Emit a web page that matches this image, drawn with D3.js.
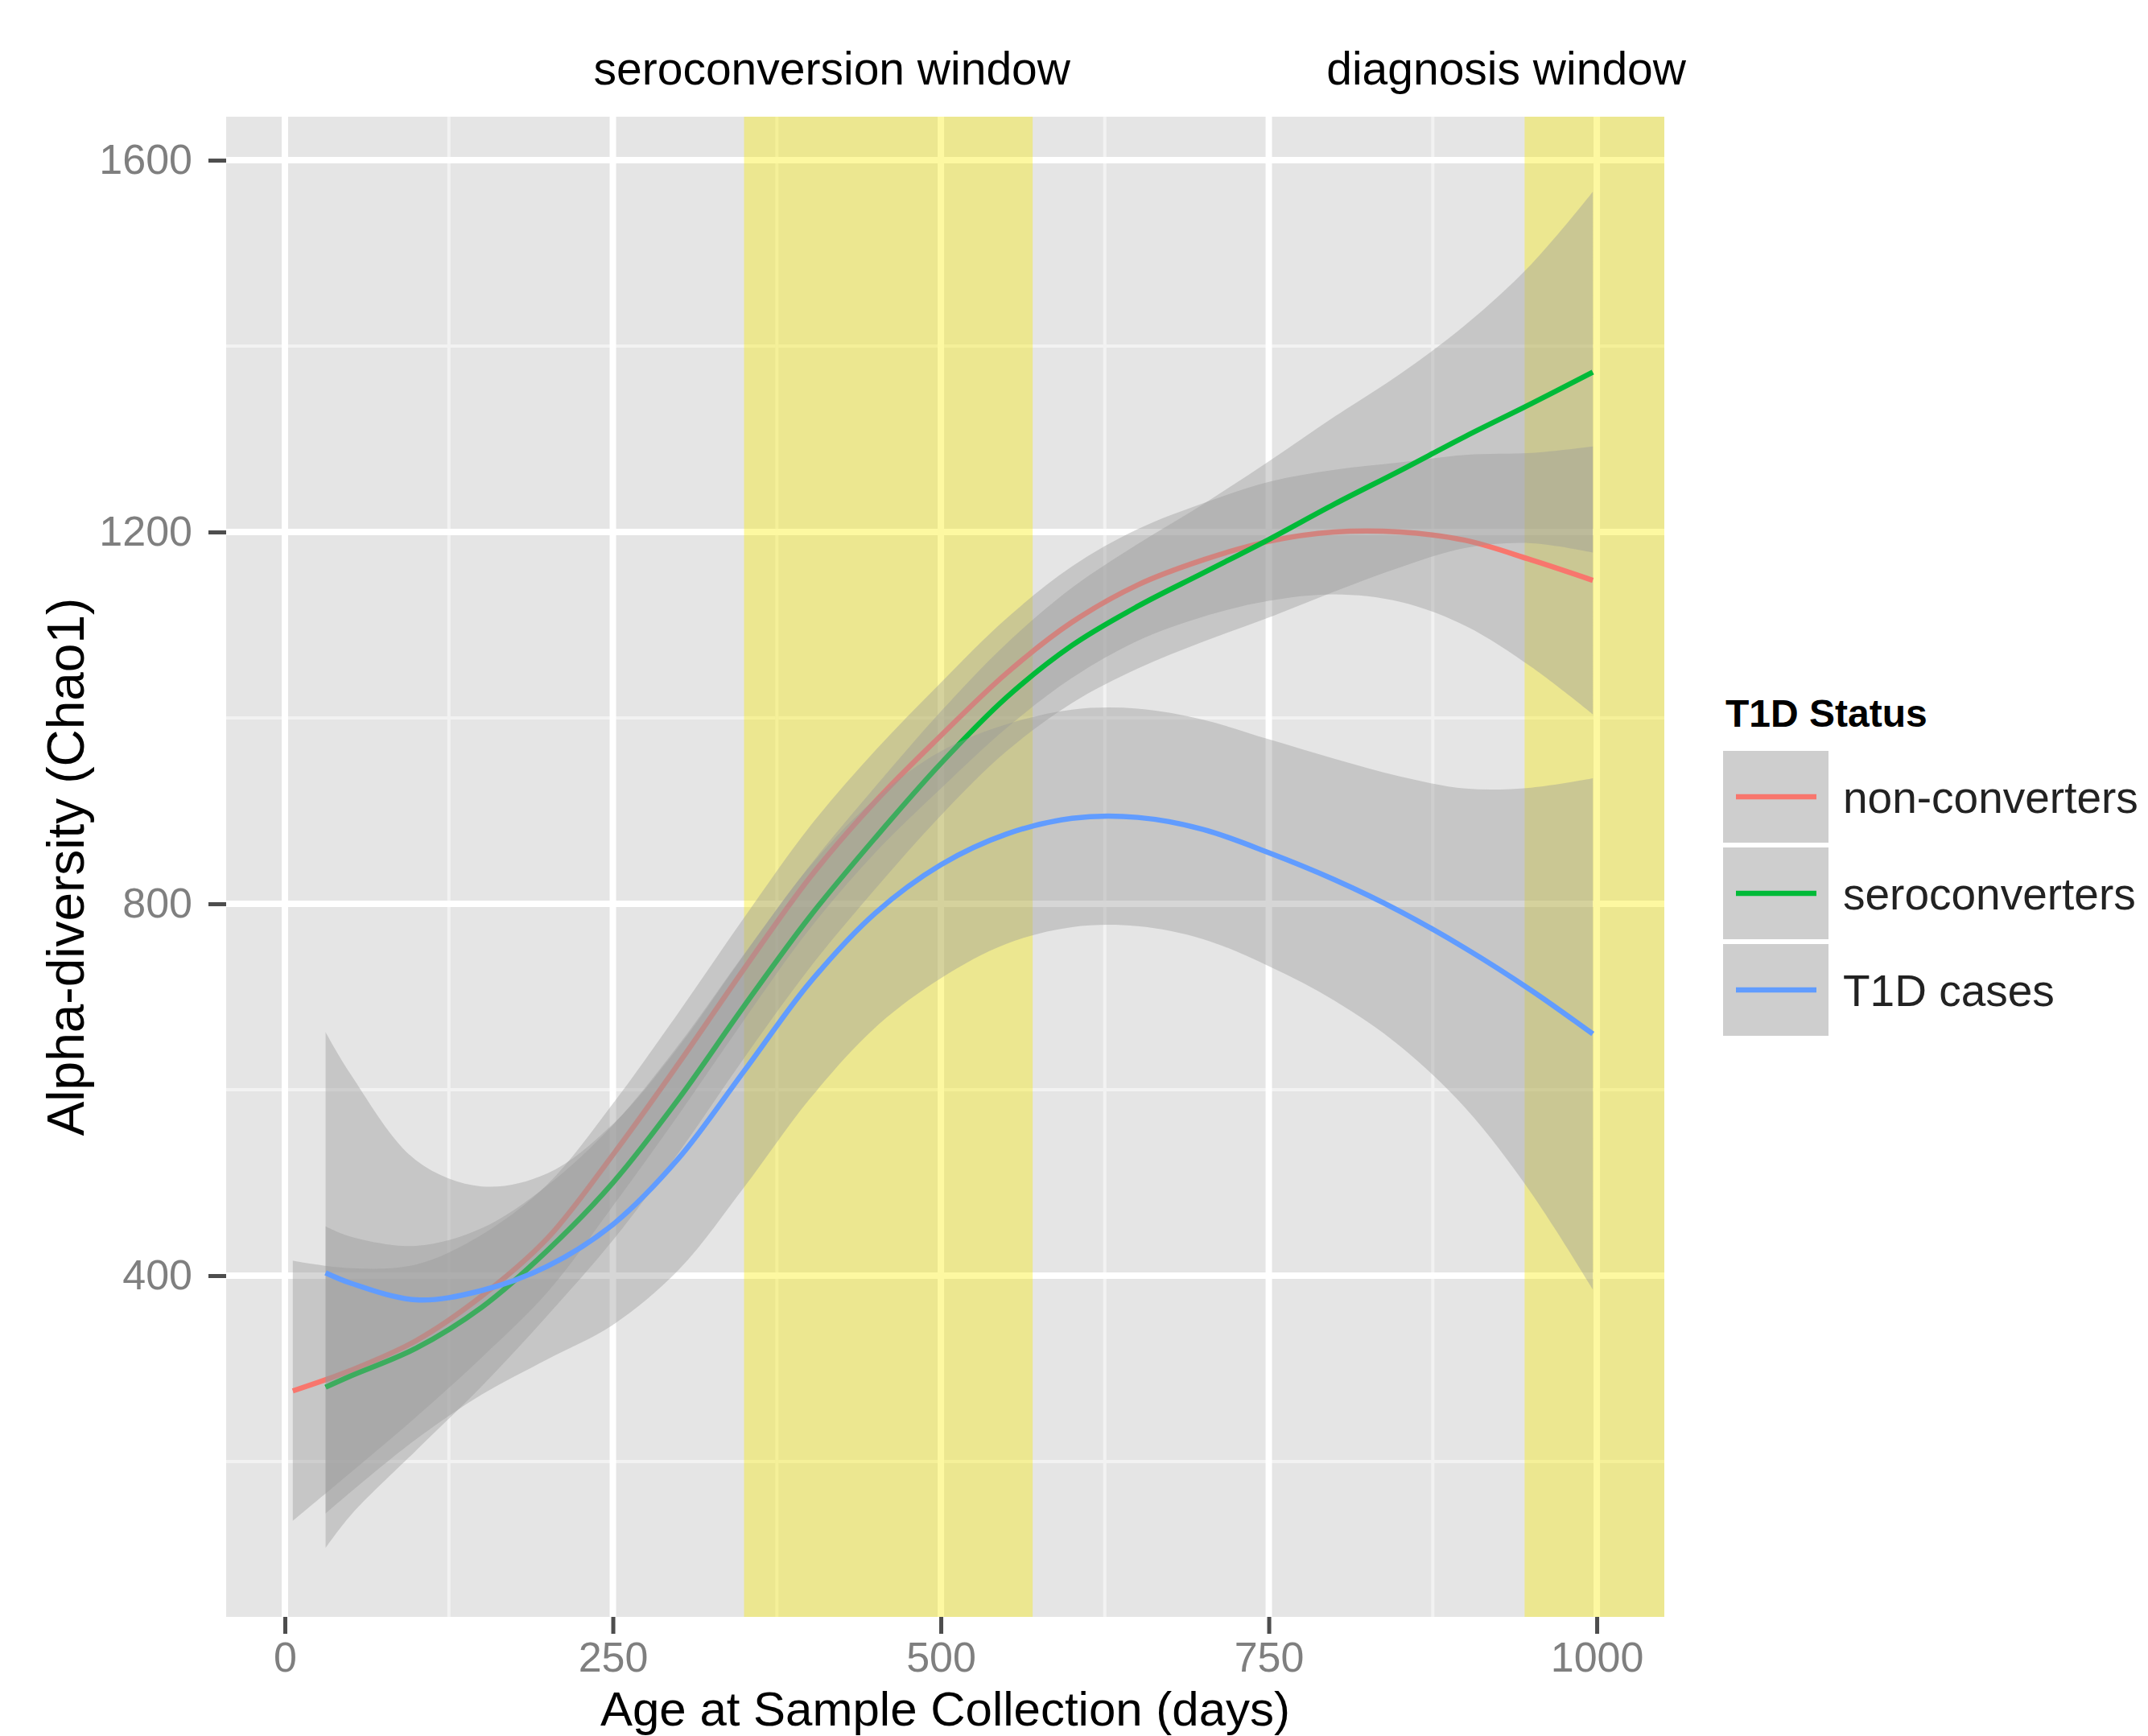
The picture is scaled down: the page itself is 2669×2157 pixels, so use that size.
<!DOCTYPE html>
<html>
<head>
<meta charset="utf-8">
<script src="https://cdn.jsdelivr.net/npm/d3@7"></script>
<style>
  html, body { margin: 0; padding: 0; background: #ffffff; }
  svg { display: block; }
  text { font-family: "Liberation Sans", Arial, Helvetica, sans-serif; }
</style>
</head>
<body>
<svg id="chart" width="2669" height="2157"></svg>
<script>
// ---------------- data ----------------
const seriesNames = ["non-converters", "seroconverters", "T1D cases"];
const seriesColors = ["#F8766D", "#00BA38", "#619CFF"];

const ageNon = [6, 50, 100, 150, 200, 250, 300, 350, 400, 450, 500, 550, 600, 650, 700, 750, 800, 850, 900, 950, 997];
const fitNon = [276, 298, 330, 378, 440, 530, 628, 730, 828, 910, 981, 1048, 1103, 1143, 1170, 1190, 1200, 1200, 1191, 1170, 1148];
const ciNon  = [140, 110, 82, 66, 58, 55, 55, 55, 55, 55, 57, 59, 60, 60, 61, 64, 67, 75, 92, 115, 144];

const ageSero = [31, 50, 100, 150, 200, 250, 300, 350, 400, 450, 500, 550, 600, 650, 700, 750, 800, 850, 900, 950, 997];
const fitSero = [280, 292, 322, 366, 427, 500, 590, 690, 786, 871, 951, 1022, 1078, 1120, 1156, 1192, 1230, 1266, 1303, 1338, 1372];
const ciSero  = [173, 150, 110, 85, 70, 62, 58, 56, 55, 55, 56, 58, 62, 67, 74, 84, 94, 104, 120, 150, 194];

const ageT1D = [31, 50, 100, 150, 200, 250, 300, 350, 400, 450, 500, 550, 600, 650, 700, 750, 800, 850, 900, 950, 997];
const fitT1D = [403, 392, 374, 384, 410, 455, 526, 620, 715, 790, 842, 875, 892, 893, 880, 855, 826, 792, 752, 707, 660];
const ciT1D  = [259, 225, 150, 112, 100, 108, 120, 125, 125, 123, 122, 118, 117, 117, 118, 122, 130, 145, 172, 218, 275];

const xMajorTicks = [0, 250, 500, 750, 1000];
const xMinorTicks = [125, 375, 625, 875];
const yMajorTicks = [400, 800, 1200, 1600];
const yMinorTicks = [200, 600, 1000, 1400];

const seroWindow = [350, 570];
const diagWindow = [945, null]; // open-ended to the panel edge
const windowLabels = ["seroconversion window", "diagnosis window"];
const windowLabelX = [417, 931];

const xTitle = "Age at Sample Collection (days)";
const yTitle = "Alpha-diversity (Chao1)";
const legendTitle = "T1D Status";

// ---------------- layout ----------------
const panel = { left: 281, right: 2068, top: 145, bottom: 2009 };
const svg = d3.select("#chart");

const x = d3.scaleLinear().domain([-44.8, 1051.5]).range([panel.left, panel.right]);
const y = d3.scaleLinear().domain([32.9, 1646.8]).range([panel.bottom, panel.top]);

// panel background
svg.append("rect")
  .attr("x", panel.left).attr("y", panel.top)
  .attr("width", panel.right - panel.left).attr("height", panel.bottom - panel.top)
  .attr("fill", "#E5E5E5");

const grid = svg.append("g");
grid.selectAll(".ymin").data(yMinorTicks).enter().append("line")
  .attr("x1", panel.left).attr("x2", panel.right)
  .attr("y1", d => y(d)).attr("y2", d => y(d))
  .attr("stroke", "#F2F2F2").attr("stroke-width", 4);
grid.selectAll(".xmin").data(xMinorTicks).enter().append("line")
  .attr("y1", panel.top).attr("y2", panel.bottom)
  .attr("x1", d => x(d)).attr("x2", d => x(d))
  .attr("stroke", "#F2F2F2").attr("stroke-width", 4);
grid.selectAll(".ymaj").data(yMajorTicks).enter().append("line")
  .attr("x1", panel.left).attr("x2", panel.right)
  .attr("y1", d => y(d)).attr("y2", d => y(d))
  .attr("stroke", "#FFFFFF").attr("stroke-width", 8);
grid.selectAll(".xmaj").data(xMajorTicks).enter().append("line")
  .attr("y1", panel.top).attr("y2", panel.bottom)
  .attr("x1", d => x(d)).attr("x2", d => x(d))
  .attr("stroke", "#FFFFFF").attr("stroke-width", 8);

// highlighted windows
const windows = [seroWindow, diagWindow];
svg.append("g").selectAll("rect").data(windows).enter().append("rect")
  .attr("x", d => x(d[0]))
  .attr("width", d => (d[1] === null ? panel.right : x(d[1])) - x(d[0]))
  .attr("y", panel.top).attr("height", panel.bottom - panel.top)
  .attr("fill", "rgb(250,235,0)").attr("fill-opacity", 0.37);

// smooths: ribbon then line, per group
const series = [
  { name: seriesNames[0], color: seriesColors[0], age: ageNon, fit: fitNon, ci: ciNon },
  { name: seriesNames[1], color: seriesColors[1], age: ageSero, fit: fitSero, ci: ciSero },
  { name: seriesNames[2], color: seriesColors[2], age: ageT1D, fit: fitT1D, ci: ciT1D }
];
const curve = d3.curveCatmullRom.alpha(0.5);
const area = d3.area()
  .x(d => x(d.a)).y0(d => y(d.f - d.c)).y1(d => y(d.f + d.c)).curve(curve);
const line = d3.line().x(d => x(d.a)).y(d => y(d.f)).curve(curve);

const plotG = svg.append("g");
series.forEach(s => {
  const pts = s.age.map((a, i) => ({ a: a, f: s.fit[i], c: s.ci[i] }));
  plotG.append("path").attr("d", area(pts))
    .attr("fill", "#999999").attr("fill-opacity", 0.4);
  plotG.append("path").attr("d", line(pts))
    .attr("fill", "none").attr("stroke", s.color).attr("stroke-width", 6.5)
    .attr("stroke-linejoin", "round");
});

// axes
const xAxis = d3.axisBottom(x).tickValues(xMajorTicks).tickSize(21).tickPadding(10).tickFormat(d3.format("d"));
const gx = svg.append("g").attr("transform", `translate(0,${panel.bottom})`).call(xAxis);
gx.select(".domain").remove();
gx.selectAll(".tick line").attr("stroke", "#4D4D4D").attr("stroke-width", 5);
gx.selectAll(".tick text").attr("fill", "#7F7F7F").attr("font-size", 52)
  .attr("font-family", '"Liberation Sans", Arial, sans-serif');

const yAxis = d3.axisLeft(y).tickValues(yMajorTicks).tickSize(22).tickPadding(20).tickFormat(d3.format("d"));
const gy = svg.append("g").attr("transform", `translate(${panel.left},0)`).call(yAxis);
gy.select(".domain").remove();
gy.selectAll(".tick line").attr("stroke", "#4D4D4D").attr("stroke-width", 5);
gy.selectAll(".tick text").attr("fill", "#7F7F7F").attr("font-size", 52)
  .attr("font-family", '"Liberation Sans", Arial, sans-serif');

// axis titles
svg.append("text").text(xTitle)
  .attr("x", (panel.left + panel.right) / 2).attr("y", 2144)
  .attr("text-anchor", "middle").attr("font-size", 60).attr("fill", "#000");
svg.append("text").text(yTitle)
  .attr("transform", `translate(104,${(panel.top + panel.bottom) / 2}) rotate(-90)`)
  .attr("text-anchor", "middle").attr("font-size", 64).attr("fill", "#000");

// window labels
svg.append("g").selectAll("text").data(windowLabels).enter().append("text")
  .text(d => d)
  .attr("x", (d, i) => x(windowLabelX[i])).attr("y", 105)
  .attr("text-anchor", "middle").attr("font-size", 57).attr("fill", "#000");

// legend
const lg = svg.append("g");
lg.append("text").text(legendTitle)
  .attr("x", 2144).attr("y", 903)
  .attr("font-size", 48).attr("font-weight", "bold").attr("fill", "#000");
const keyTop = 933, keyH = 114, keyPitch = 120, keyX = 2141, keyW = 131;
series.forEach((s, i) => {
  const ky = keyTop + i * keyPitch;
  lg.append("rect").attr("x", keyX).attr("y", ky).attr("width", keyW).attr("height", keyH)
    .attr("fill", "#F2F2F2");
  lg.append("rect").attr("x", keyX).attr("y", ky).attr("width", keyW).attr("height", keyH)
    .attr("fill", "#999999").attr("fill-opacity", 0.4);
  lg.append("line").attr("x1", keyX + 16).attr("x2", keyX + keyW - 15)
    .attr("y1", ky + keyH / 2).attr("y2", ky + keyH / 2)
    .attr("stroke", s.color).attr("stroke-width", 6.5);
  lg.append("text").text(s.name)
    .attr("x", 2290).attr("y", ky + keyH / 2).attr("dy", "0.36em")
    .attr("font-size", 55).attr("fill", "#222");
});
</script>
</body>
</html>
